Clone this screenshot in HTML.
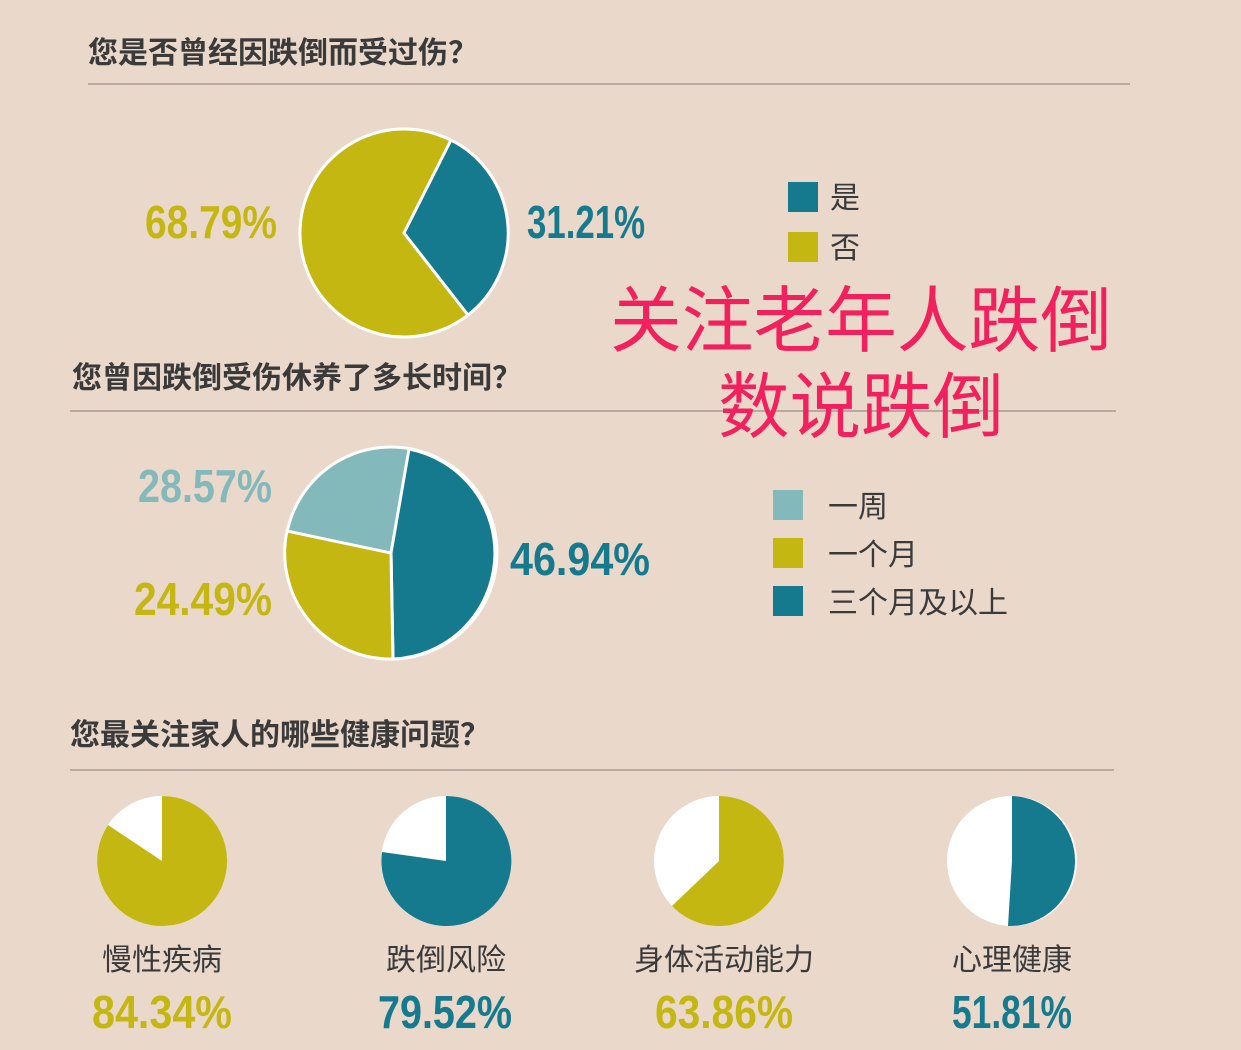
<!DOCTYPE html>
<html><head><meta charset="utf-8"><style>
html,body{margin:0;padding:0;background:#ead8cb;}
svg{display:block}
.t{font-family:"Noto Sans CJK SC",sans-serif;font-weight:bold;fill:#3a3a3a;font-size:30px}
.l{font-family:"Liberation Sans","Noto Sans CJK SC",sans-serif;fill:#3a3a3a;font-size:30px}
.p{font-family:"Liberation Sans Narrow","Liberation Sans",sans-serif;font-weight:bold;font-size:46px}
.r{font-family:"Liberation Sans","Noto Sans CJK SC",sans-serif;fill:#f2205c;font-size:72px}
</style></head><body>
<svg width="1241" height="1050" viewBox="0 0 1241 1050" xmlns="http://www.w3.org/2000/svg">
<rect width="1241" height="1050" fill="#ead8cb"/>
<text class="t" x="88" y="63">您是否曾经因跌倒而受过伤？</text>
<line x1="88" y1="84" x2="1130" y2="84" stroke="#b8aaa0" stroke-width="2"/>
<text class="t" x="72" y="388">您曾因跌倒受伤休养了多长时间？</text>
<line x1="70" y1="411" x2="1116" y2="411" stroke="#b8aaa0" stroke-width="2"/>
<text class="t" x="70" y="745">您最关注家人的哪些健康问题？</text>
<line x1="70" y1="770" x2="1114" y2="770" stroke="#b8aaa0" stroke-width="2"/>

<circle cx="404" cy="233" r="104" fill="#c4b711" stroke="#fff" stroke-width="3"/>
<path d="M404,233 L451,140 A104,104 0 0,1 468,315 Z" fill="#157a8e" stroke="#fff" stroke-width="3"/>
<text class="p" x="145" y="238" fill="#c4b711" textLength="132" lengthAdjust="spacingAndGlyphs">68.79%</text>
<text class="p" x="527" y="238" fill="#157a8e" textLength="118" lengthAdjust="spacingAndGlyphs">31.21%</text>
<rect x="788" y="182" width="30" height="30" fill="#157a8e"/>
<rect x="788" y="232" width="30" height="30" fill="#c4b711"/>
<text class="l" x="830" y="208">是</text>
<text class="l" x="830" y="258">否</text>

<circle cx="391" cy="553" r="106" fill="#84b9bb" stroke="#fff" stroke-width="3"/>
<path d="M391,553 L409,449 A106,106 0 0,1 393,659 Z" fill="#157a8e" stroke="#fff" stroke-width="3"/>
<path d="M391,553 L393,659 A106,106 0 0,1 287,531 Z" fill="#c4b711" stroke="#fff" stroke-width="3"/>
<text class="p" x="138" y="502" fill="#84b9bb" textLength="134" lengthAdjust="spacingAndGlyphs">28.57%</text>
<text class="p" x="134" y="615" fill="#c4b711" textLength="138" lengthAdjust="spacingAndGlyphs">24.49%</text>
<text class="p" x="510" y="575" fill="#157a8e" textLength="140" lengthAdjust="spacingAndGlyphs">46.94%</text>
<rect x="773" y="490" width="30" height="30" fill="#84b9bb"/>
<rect x="773" y="538" width="30" height="30" fill="#c4b711"/>
<rect x="773" y="586" width="30" height="30" fill="#157a8e"/>
<text class="l" x="828" y="517">一周</text>
<text class="l" x="828" y="565">一个月</text>
<text class="l" x="828" y="613">三个月及以上</text>

<circle cx="162" cy="861" r="65" fill="#fff"/>
<path d="M162,861 L162,796 A65,65 0 1,1 108,825 Z" fill="#c4b711"/>
<circle cx="446" cy="861" r="65" fill="#fff"/>
<path d="M446,861 L446,796 A65,65 0 1,1 382,852 Z" fill="#157a8e"/>
<circle cx="719" cy="861" r="65" fill="#fff"/>
<path d="M719,861 L719,796 A65,65 0 1,1 672,906 Z" fill="#c4b711"/>
<circle cx="1012" cy="861" r="65" fill="#fff"/>
<path d="M1012,861 L1012,796 A65,65 0 0,1 1008,926 Z" fill="#157a8e"/>

<text class="l" x="162" y="970" text-anchor="middle">慢性疾病</text>
<text class="l" x="446" y="970" text-anchor="middle">跌倒风险</text>
<text class="l" x="724" y="970" text-anchor="middle">身体活动能力</text>
<text class="l" x="1012" y="970" text-anchor="middle">心理健康</text>
<text class="p" x="92" y="1028" fill="#c4b711" textLength="140" lengthAdjust="spacingAndGlyphs">84.34%</text>
<text class="p" x="378" y="1028" fill="#157a8e" textLength="134" lengthAdjust="spacingAndGlyphs">79.52%</text>
<text class="p" x="655" y="1028" fill="#c4b711" textLength="138" lengthAdjust="spacingAndGlyphs">63.86%</text>
<text class="p" x="952" y="1028" fill="#157a8e" textLength="120" lengthAdjust="spacingAndGlyphs">51.81%</text>

<text class="r" x="610" y="346" textLength="502" lengthAdjust="spacingAndGlyphs">关注老年人跌倒</text>
<text class="r" x="718" y="432" textLength="286" lengthAdjust="spacingAndGlyphs">数说跌倒</text>
</svg>
</body></html>
